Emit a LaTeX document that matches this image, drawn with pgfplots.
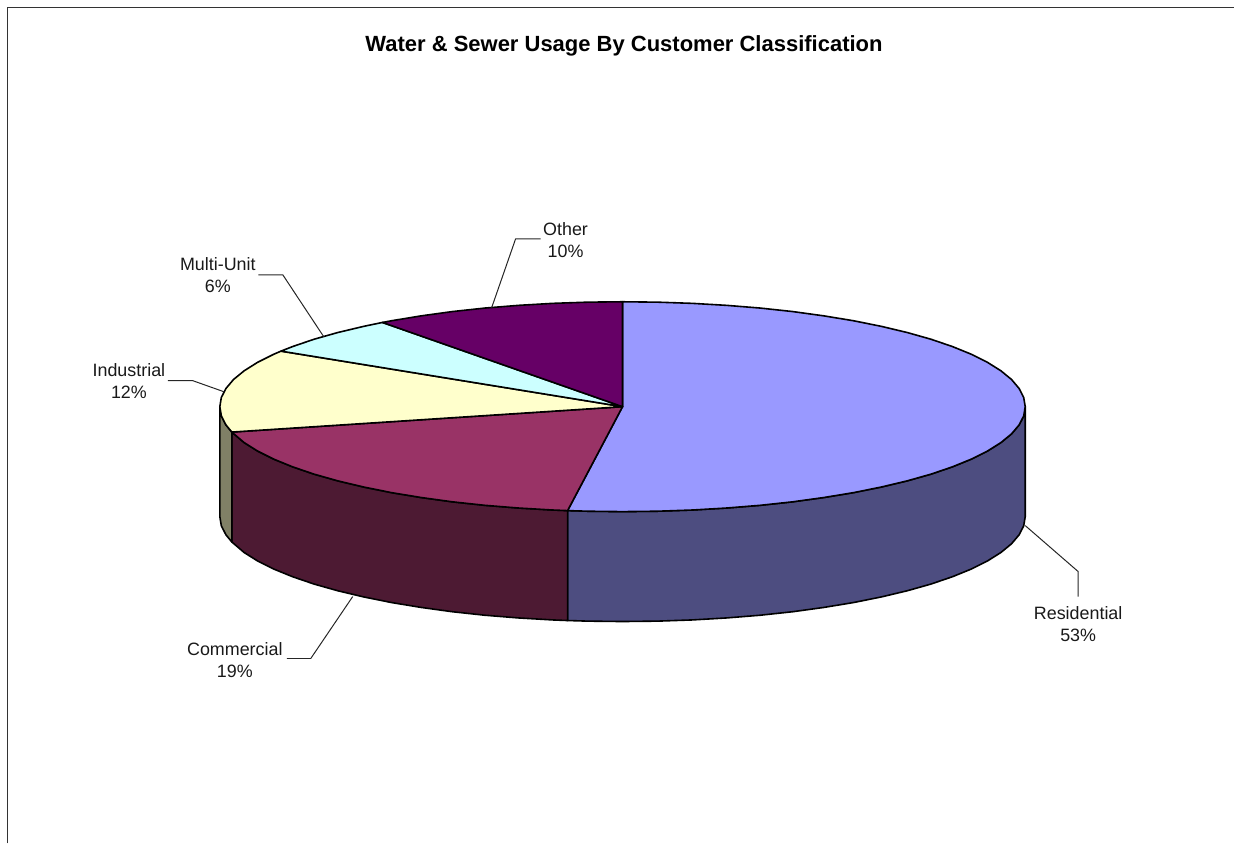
\documentclass[border=0pt]{standalone}
\usepackage{pgfplots}
\pgfplotsset{compat=1.18}
\usepackage{fontspec}
\setmainfont{Liberation Sans}
\definecolor{resT}{HTML}{9999FF}
\definecolor{resS}{HTML}{4D4D80}
\definecolor{comT}{HTML}{993366}
\definecolor{comS}{HTML}{4D1A33}
\definecolor{indT}{HTML}{FFFFCC}
\definecolor{indS}{HTML}{808066}
\definecolor{mulT}{HTML}{CCFFFF}
\definecolor{othT}{HTML}{660066}
\tikzset{lab/.style={font=\fontsize{17.9}{22.5}\selectfont, align=center, text=black!90, inner sep=0pt, anchor=center}}
\begin{document}
\begin{tikzpicture}
\begin{axis}[
  scale only axis, width=1235pt, height=844pt,
  xmin=0, xmax=1235, ymin=0, ymax=844, y dir=reverse,
  axis lines=none, clip=false,
  every axis plot/.append style={line join=round}
]
% canvas corners
\addplot[draw=none, forget plot] coordinates {(0,0) (1235,844)};
% frame
\addplot[draw=black!80, line width=1.9pt] coordinates {(7.5,844) (7.5,7.5) (1235,7.5)};
% side walls
\addplot[fill=resS, draw=black, line width=1.6pt] coordinates {
(1026,407)(1026,517)(1024.5,526.2)(1019.9,535.2)(1012.3,544.2)(1001.7,552.9)(988.2,561.4)(972,569.5)(953.1,577.2)(931.7,584.5)(908,591.2)(882,597.4)(854.2,603)(824.5,607.9)(793.3,612.2)(760.8,615.7)(727.3,618.4)(693,620.4)(658.1,621.6)(623,622)(587.9,621.6)(568,621)
(568,511)(587.9,511.6)(623,512)(658.1,511.6)(693,510.4)(727.3,508.4)(760.8,505.7)(793.3,502.2)(824.5,497.9)(854.2,493)(882,487.4)(908,481.2)(931.7,474.5)(953.1,467.2)(972,459.5)(988.2,451.4)(1001.7,442.9)(1012.3,434.2)(1019.9,425.2)(1024.5,416.2)(1026,407)
} -- cycle;
\addplot[fill=comS, draw=black, line width=1.6pt] coordinates {
(568,511)(568,621)(553,620.4)(518.7,618.4)(485.2,615.7)(452.7,612.2)(421.5,607.9)(391.8,603)(364,597.4)(338,591.2)(314.3,584.5)(292.9,577.2)(274,569.5)(257.8,561.4)(244.3,552.9)(232,542.4)
(232,432.4)(244.3,442.9)(257.8,451.4)(274,459.5)(292.9,467.2)(314.3,474.5)(338,481.2)(364,487.4)(391.8,493)(421.5,497.9)(452.7,502.2)(485.2,505.7)(518.7,508.4)(553,510.4)(568,511)
} -- cycle;
\addplot[fill=indS, draw=black, line width=1.6pt] coordinates {
(232,432.4)(232,542.4)(226.1,535.2)(221.5,526.2)(220,517)(220,407)(221.5,416.2)(226.1,425.2)
} -- cycle;
% top faces
\addplot[fill=resT, draw=black, line width=1.6pt] coordinates {
(623,407)(623,302)(658.1,302.4)(693,303.6)(727.3,305.6)(760.8,308.3)(793.3,311.8)(824.5,316.1)(854.2,321)(882,326.6)(908,332.8)(931.7,339.5)(953.1,346.8)(972,354.5)(988.2,362.6)(1001.7,371.1)(1012.3,379.8)(1019.9,388.8)(1024.5,397.8)(1026,407)(1024.5,416.2)(1019.9,425.2)(1012.3,434.2)(1001.7,442.9)(988.2,451.4)(972,459.5)(953.1,467.2)(931.7,474.5)(908,481.2)(882,487.4)(854.2,493)(824.5,497.9)(793.3,502.2)(760.8,505.7)(727.3,508.4)(693,510.4)(658.1,511.6)(623,512)(587.9,511.6)(568,511)
} -- cycle;
\addplot[fill=comT, draw=black, line width=1.6pt] coordinates {
(623,407)(568,511)(553,510.4)(518.7,508.4)(485.2,505.7)(452.7,502.2)(421.5,497.9)(391.8,493)(364,487.4)(338,481.2)(314.3,474.5)(292.9,467.2)(274,459.5)(257.8,451.4)(244.3,442.9)(232,432.4)
} -- cycle;
\addplot[fill=indT, draw=black, line width=1.6pt] coordinates {
(623,407)(232,432.4)(226.1,425.2)(221.5,416.2)(220,407)(221.5,397.8)(226.1,388.8)(233.7,379.8)(244.3,371.1)(257.8,362.6)(274,354.5)(281.2,351.4)
} -- cycle;
\addplot[fill=mulT, draw=black, line width=1.6pt] coordinates {
(623,407)(281.2,351.4)(292.9,346.8)(314.3,339.5)(338,332.8)(364,326.6)(382.7,322.7)
} -- cycle;
\addplot[fill=othT, draw=black, line width=1.6pt] coordinates {
(623,407)(382.7,322.7)(391.8,321)(421.5,316.1)(452.7,311.8)(485.2,308.3)(518.7,305.6)(553,303.6)(587.9,302.4)(623,302)
} -- cycle;
% leader lines
\addplot[draw=black!85, line width=1pt] coordinates {(1026,526)(1079,572)(1079,597)};
\addplot[draw=black!85, line width=1pt] coordinates {(258.5,275)(283,275)(324,337)};
\addplot[draw=black!85, line width=1pt] coordinates {(168,381)(193,381)(224,392)};
\addplot[draw=black!85, line width=1pt] coordinates {(287,659)(311,659)(353,597)};
\addplot[draw=black!85, line width=1pt] coordinates {(541,239)(516,239)(492,308)};
% labels
\node[font=\fontsize{22}{26}\selectfont\bfseries, inner sep=0pt, anchor=center] at (axis cs:624.5,45.5) {Water \& Sewer Usage By Customer Classification};
\node[lab] at (axis cs:1079,624.5) {Residential\\53\%};
\node[lab] at (axis cs:218,275.5) {Multi-Unit\\6\%};
\node[lab] at (axis cs:129,381.5) {Industrial\\12\%};
\node[lab] at (axis cs:235,660.5) {Commercial\\19\%};
\node[lab] at (axis cs:566,240.5) {Other\\10\%};
\end{axis}
\end{tikzpicture}
\end{document}
